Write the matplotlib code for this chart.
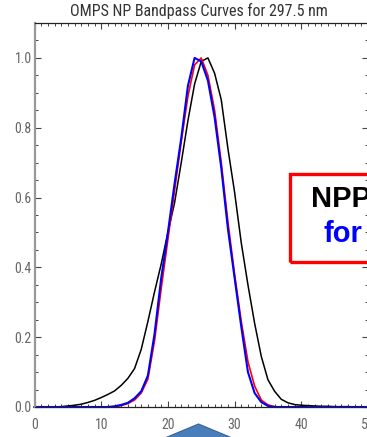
import matplotlib
matplotlib.use('Agg')
import matplotlib.pyplot as plt
import numpy as np
from matplotlib import font_manager
from matplotlib.patches import Polygon, Rectangle
from matplotlib.ticker import MultipleLocator

# bandpass curves, sampled every 1 nm offset
x = np.arange(0, 51)
black = [0, 0, 0, 0, 0.001, 0.003, 0.005, 0.008, 0.013, 0.019,
         0.027, 0.036, 0.046, 0.062, 0.082, 0.11, 0.165, 0.245, 0.33, 0.41,
         0.50, 0.585, 0.70, 0.82, 0.925, 0.99, 1.0, 0.956, 0.88, 0.74,
         0.615, 0.47, 0.35, 0.24, 0.145, 0.078, 0.045, 0.022, 0.012, 0.007,
         0.005, 0.004, 0.003, 0.002, 0.002, 0.001, 0.001, 0.001, 0, 0, 0]
red = [0, 0, 0, 0, 0, 0, 0, 0, 0, 0,
       0, 0, 0.001, 0.004, 0.01, 0.02, 0.04, 0.08, 0.19, 0.34,
       0.48, 0.62, 0.76, 0.89, 0.98, 1.0, 0.95, 0.85, 0.70, 0.53,
       0.38, 0.245, 0.13, 0.06, 0.02, 0.006, 0.001, 0, 0, 0,
       0, 0, 0, 0, 0, 0, 0, 0, 0, 0, 0]
blue = [0, 0, 0, 0, 0, 0, 0, 0, 0, 0,
        0, 0, 0.002, 0.006, 0.012, 0.025, 0.045, 0.09, 0.21, 0.37,
        0.50, 0.64, 0.77, 0.92, 1.0, 0.99, 0.935, 0.83, 0.685, 0.51,
        0.37, 0.23, 0.10, 0.04, 0.014, 0.003, 0, 0, 0, 0,
        0, 0, 0, 0, 0, 0, 0, 0, 0, 0, 0]

title = "OMPS NP Bandpass Curves for 297.5 nm"

# a narrow face for the IDL-style labels, if one is installed
names = {f.name for f in font_manager.fontManager.ttflist}
narrow = [n for n in ['Liberation Sans Narrow', 'DejaVu Sans Condensed', 'Roboto Condensed']
          if n in names] + ['DejaVu Sans']

W, H = 367, 437
fig = plt.figure(figsize=(W / 100, H / 100), dpi=100)
ax = fig.add_axes([34.5 / W, 30 / H, 333.5 / W, 384 / H])

ax.plot(x, black, color='black', lw=1.1, clip_on=False)
ax.plot(x, red, color='red', lw=1.2, clip_on=False)
ax.plot(x, blue, color='blue', lw=1.5, clip_on=False)

ax.set_xlim(0, 50)
ax.set_ylim(0, 1.1)
ax.xaxis.set_major_locator(MultipleLocator(10))
ax.xaxis.set_minor_locator(MultipleLocator(1))
ax.yaxis.set_major_locator(MultipleLocator(0.2))
ax.yaxis.set_minor_locator(MultipleLocator(0.05))
ax.yaxis.set_major_formatter(plt.FuncFormatter(lambda v, p: f"{v:.1f}"))
ax.tick_params(which='both', direction='in', top=True, right=True,
               colors='#444444', labelcolor='#666666', labelsize=10)
ax.tick_params(which='major', length=4.5, width=0.8)
ax.tick_params(which='minor', length=2, width=0.7)
ax.tick_params(axis='x', pad=8)
ax.tick_params(axis='y', pad=2)
for lab in ax.get_xticklabels() + ax.get_yticklabels():
    lab.set_family(narrow)
    lab.set_stretch('condensed')
ax.spines['left'].set_color('#999999')
ax.spines['left'].set_linewidth(1.6)
for s in ['top', 'bottom', 'right']:
    ax.spines[s].set_color('#222222')
    ax.spines[s].set_linewidth(0.9)

fig.text(199 / W, 1 - 11 / H, title, ha='center', va='center',
         fontsize=11.5, color='#333333', family=narrow, stretch='condensed')

# slide overlay: red label box (cut off at the right edge)
fig.patches.append(Rectangle((289.5 / W, 1 - 262 / H), 100 / W, 88 / H,
                             transform=fig.transFigure, fill=False,
                             edgecolor='red', lw=2.4, zorder=5))
fig.text(311 / W, 1 - 199 / H, "NPP", fontsize=21, fontweight='bold',
         color='black', family='Liberation Sans', va='center', ha='left')
fig.text(324 / W, 1 - 234 / H, "for", fontsize=21, fontweight='bold',
         color='blue', family='Liberation Sans', va='center', ha='left')

# slide overlay: blue chevron at the bottom
fig.patches.append(Polygon([(160 / W, -3 / H), (198.5 / W, 13 / H),
                            (237 / W, -3 / H)], closed=True,
                           transform=fig.transFigure, facecolor='#4a7ebb',
                           edgecolor='#3a6394', lw=0.8, zorder=5))

fig.savefig('out.png', dpi=100)
